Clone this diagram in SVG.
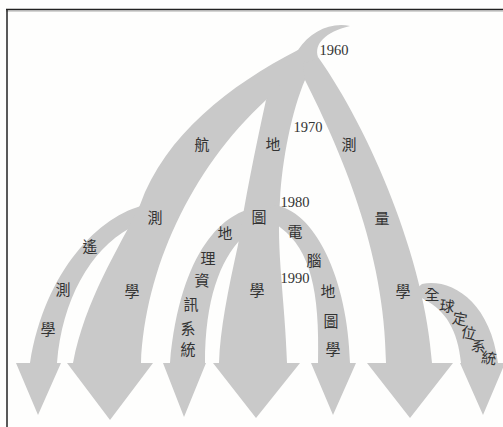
<svg xmlns="http://www.w3.org/2000/svg" width="503" height="427" viewBox="0 0 503 427">
<style>
.band{fill:#c9c9c9;stroke:none}
.cj{font-family:"Noto Sans CJK TC","Noto Sans CJK SC",sans-serif;font-size:15px;fill:#333;text-anchor:middle;dominant-baseline:central}
.yr{font-family:"Liberation Serif",serif;font-size:14.5px;fill:#333;text-anchor:middle;dominant-baseline:central}
</style>
<rect x="0" y="0" width="503" height="427" fill="#fefefd"/>
<line x1="6" y1="9.5" x2="503" y2="9.5" stroke="#222" stroke-width="1.5"/>
<line x1="6" y1="11" x2="503" y2="11" stroke="#aaa" stroke-width="1"/>
<line x1="7" y1="9" x2="7" y2="427" stroke="#222" stroke-width="1.5"/>
<g id="connectors">
<g id="trunk">
<path class="band" d="M350,26 C330,22 310,32 298,50 L266,100 L305,80 L318,57 C314,44 325,32 350,26 Z"/>
</g>
<g id="remote-sensing">
<path class="band" d="M145,205 C100,215 45,270 30,363 L16,363 L38,415 L61,363 L57,363 C62,300 90,250 130,228 L150,215 Z"/>
</g>
<g id="aerial">
<path class="band" d="M298,50 C230,85 165,135 140,205 C118,250 85,300 73,363 L67,363 L110,420 L153,363 L141,363 C145,270 190,170 266,100 L305,62 Z"/>
</g>
<g id="gis">
<path class="band" d="M258,208 C225,210 180,250 170,363 L163,363 L184,417 L206,363 L205,363 C205,300 220,260 242,238 L262,225 Z"/>
</g>
<g id="cartography">
<path class="band" d="M266,100 C255,150 245,200 238,245 C228,290 220,330 219,363 L213,363 L256,418 L300,363 L287,363 C285,300 276,250 280,200 C282,160 292,110 305,80 L300,62 Z"/>
</g>
<g id="computer-cartography">
<path class="band" d="M272,205 C315,208 348,280 350,363 L356,363 L333,415 L311,363 L318,363 C320,290 310,250 281,228 L265,215 Z"/>
</g>
<g id="surveying">
<path class="band" d="M305,80 C340,150 385,250 386,363 L367,363 L410,418 L453,363 L432,363 C425,260 370,130 318,57 L303,65 Z"/>
</g>
<g id="gps">
<path class="band" d="M422,284 C450,278 490,300 498,363 L505,363 L483,415 L460,363 L461,363 C458,330 445,310 425,300 L412,292 Z"/>
</g>
</g>
<g id="years">
<text class="yr" x="334" y="50">1960</text>
<text class="yr" x="308" y="127">1970</text>
<text class="yr" x="295" y="202">1980</text>
<text class="yr" x="295" y="278">1990</text>
</g>
<g id="label-aerial">
<text class="cj" x="202" y="143">航</text>
<text class="cj" x="155" y="216">測</text>
<text class="cj" x="132" y="290">學</text>
</g>
<g id="label-remote">
<text class="cj" x="90" y="245">遙</text>
<text class="cj" x="63" y="288">測</text>
<text class="cj" x="48" y="328">學</text>
</g>
<g id="label-cartography">
<text class="cj" x="273" y="143">地</text>
<text class="cj" x="259" y="216">圖</text>
<text class="cj" x="257" y="289">學</text>
</g>
<g id="label-gis">
<text class="cj" x="225" y="232">地</text>
<text class="cj" x="208" y="257">理</text>
<text class="cj" x="202" y="279">資</text>
<text class="cj" x="191" y="303">訊</text>
<text class="cj" x="188" y="327">系</text>
<text class="cj" x="188" y="348">統</text>
</g>
<g id="label-computer">
<text class="cj" x="295" y="230">電</text>
<text class="cj" x="314" y="259">腦</text>
<text class="cj" x="328" y="290">地</text>
<text class="cj" x="331" y="320">圖</text>
<text class="cj" x="333" y="348">學</text>
</g>
<g id="label-surveying">
<text class="cj" x="349" y="143">測</text>
<text class="cj" x="382" y="217">量</text>
<text class="cj" x="403" y="290">學</text>
</g>
<g id="label-gps">
<text class="cj" x="432" y="293">全</text>
<text class="cj" x="447" y="305" transform="rotate(8 447 305)">球</text>
<text class="cj" x="460" y="318" transform="rotate(10 460 318)">定</text>
<text class="cj" x="469" y="332" transform="rotate(12 469 332)">位</text>
<text class="cj" x="479" y="345" transform="rotate(12 479 345)">系</text>
<text class="cj" x="489" y="357" transform="rotate(8 489 357)">統</text>
</g>
</svg>
